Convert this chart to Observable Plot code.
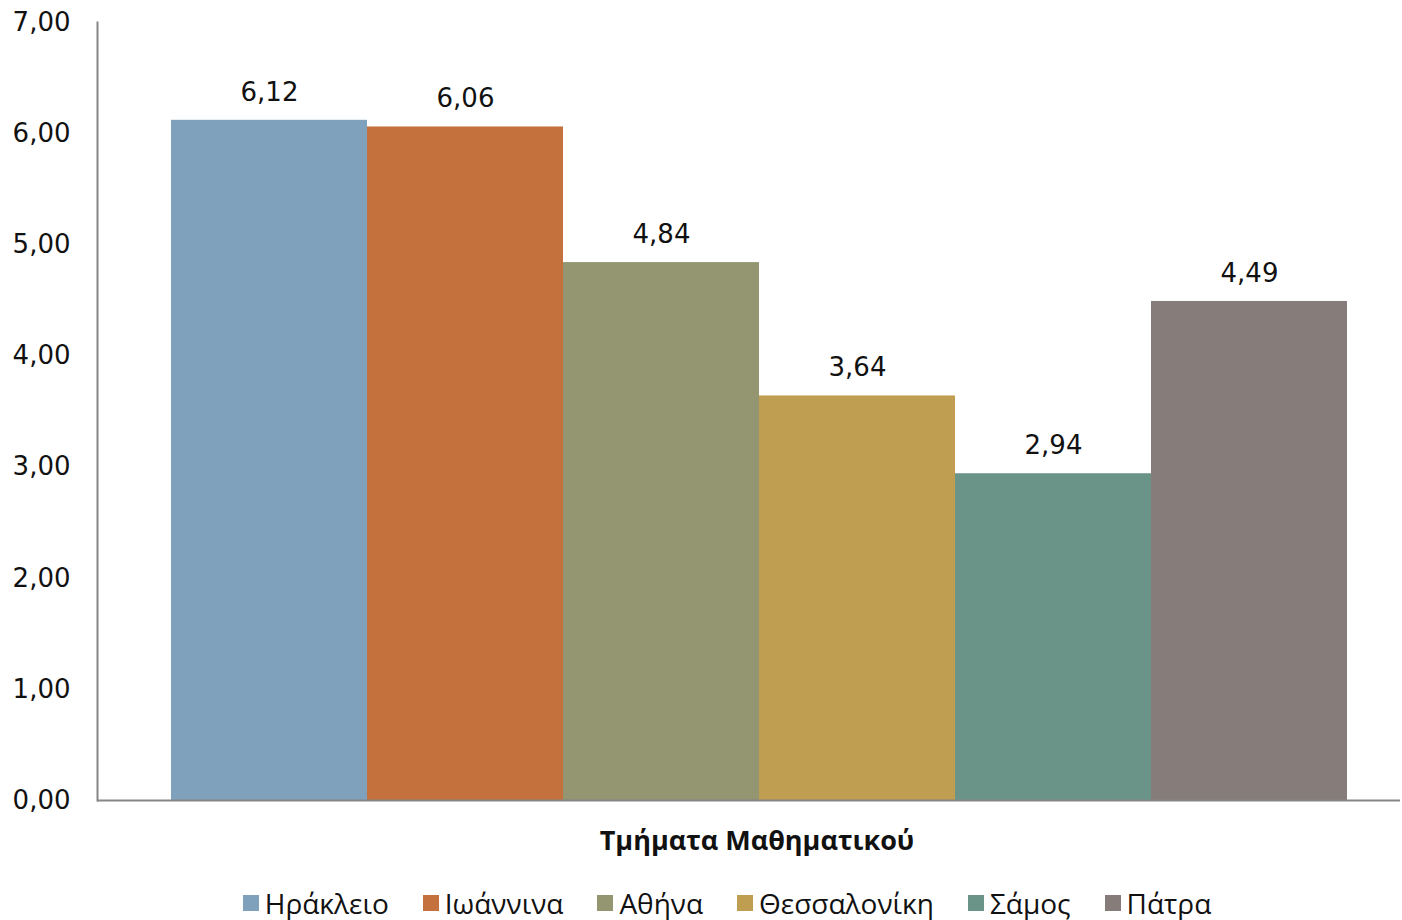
<!DOCTYPE html>
<html>
<head>
<meta charset="utf-8">
<script src="https://cdn.jsdelivr.net/npm/d3@7"></script>
<script src="https://cdn.jsdelivr.net/npm/@observablehq/plot@0.6"></script>
<style>
  body { margin: 0; background: #fff; }
  #title { position: absolute; left: 0; top: 821px; width: 1514px; text-align: center; font: bold 27px "Open Sans", sans-serif; color: #111; line-height: 38px; }
  #legend { position: absolute; left: 0; top: 883px; width: 1454px; display: flex; justify-content: center; gap: 34px; font: 28px "Open Sans", sans-serif; color: #111; line-height: 40px; }
  .item { display: flex; align-items: center; gap: 6px; }
  .sw { width: 16px; height: 16px; display: inline-block; }
</style>
</head>
<body>
<div id="chart"></div>
<div id="title">Τμήματα Μαθηματικού</div>
<div id="legend"></div>
<script>
const cities = ["Ηράκλειο", "Ιωάννινα", "Αθήνα", "Θεσσαλονίκη", "Σάμος", "Πάτρα"];
const values = [6.12, 6.06, 4.84, 3.64, 2.94, 4.49];
const colors = ["#7FA1BC", "#C5713D", "#939670", "#BF9D51", "#6B9489", "#867C7A"];
const yTicks = [0, 1, 2, 3, 4, 5, 6, 7];

const data = cities.map((c, i) => ({city: c, value: values[i]}));
const fmt = d => d.toFixed(2).replace(".", ",");

const plot = Plot.plot({
  width: 1402,
  height: 820,
  marginTop: 22,
  marginBottom: 20,
  marginLeft: 97,
  marginRight: 2,
  style: {fontFamily: "DejaVu Sans, sans-serif", fontSize: "26px", color: "#111"},
  x: {domain: cities, range: [170, 1347], padding: 0, axis: null},
  y: {domain: [0, 7], ticks: yTicks, tickFormat: fmt, tickSize: 0, tickPadding: 27, label: null},
  color: {domain: cities, range: colors},
  marks: [
    Plot.barY(data, {x: "city", y: "value", fill: "city", inset: 0}),
    Plot.text(data, {x: "city", y: "value", text: d => fmt(d.value), dy: -28, fontSize: 26, fill: "#111"}),
    Plot.frame({anchor: "left", stroke: "#868686", strokeWidth: 2}),
    Plot.ruleY([0], {stroke: "#868686", strokeWidth: 2})
  ]
});
document.getElementById("chart").appendChild(plot);

const legend = document.getElementById("legend");
cities.forEach((c, i) => {
  const it = document.createElement("div");
  it.className = "item";
  const sw = document.createElement("span");
  sw.className = "sw";
  sw.style.background = colors[i];
  const t = document.createElement("span");
  t.textContent = c;
  it.appendChild(sw);
  it.appendChild(t);
  legend.appendChild(it);
});
</script>
</body>
</html>
